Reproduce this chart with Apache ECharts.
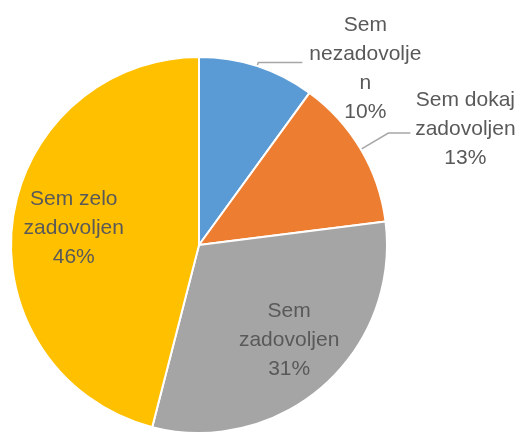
<!DOCTYPE html>
<html>
<head>
<meta charset="utf-8">
<script src="https://cdn.jsdelivr.net/npm/echarts@6/dist/echarts.min.js"></script>
<style>
  html, body { margin: 0; padding: 0; background: #fff; }
  #main { width: 524px; height: 434px; }
</style>
</head>
<body>
<div id="main"></div>
<script>
// podatki
var categories = ['Sem\nnezadovolje\nn', 'Sem dokaj\nzadovoljen', 'Sem\nzadovoljen', 'Sem zelo\nzadovoljen'];
var values = [10, 13, 31, 46];
var colors = ['#5B9BD5', '#ED7D31', '#A5A5A5', '#FFC000'];

var textColor = '#595959';
var font = 'Liberation Sans';

// zunanje oznake: besedilo centrirano v bloku
function outsideLabel(width, len, len2, offset) {
    return {
        label: {
            position: 'outside',
            offset: offset,
            formatter: function (p) {
                var lines = p.name.split('\n');
                lines.push(p.percent + '%');
                return lines.map(function (l) { return '{c|' + l + '}'; }).join('\n');
            },
            rich: {
                c: { width: width, align: 'center', fontSize: 21, lineHeight: 29, color: textColor, fontFamily: font }
            }
        },
        labelLine: { show: true, length: len, length2: len2, lineStyle: { color: '#a6a6a6', width: 1.5 } }
    };
}

function insideLabel(offset) {
    return {
        label: { position: 'inside', offset: offset },
        labelLine: { show: false }
    };
}

var itemExtra = [
    outsideLabel(116, 4, 44, [0, 6]),
    outsideLabel(100, 32, 22, [0, -4]),
    insideLabel([26, 22]),
    insideLabel([-29, -5])
];

var data = values.map(function (v, i) {
    var d = { value: v, name: categories[i], itemStyle: { color: colors[i] } };
    d.label = itemExtra[i].label;
    d.labelLine = itemExtra[i].labelLine;
    return d;
});

var myChart = echarts.init(document.getElementById('main'), null, { renderer: 'canvas' });

var option = {
    animation: false,
    series: [
        {
            type: 'pie',
            radius: 188,
            center: [199, 245],
            startAngle: 90,
            clockwise: true,
            avoidLabelOverlap: false,
            percentPrecision: 0,
            itemStyle: { borderColor: '#fff', borderWidth: 2 },
            label: {
                formatter: '{b}\n{d}%',
                fontSize: 21,
                lineHeight: 29,
                color: textColor,
                fontFamily: font
            },
            labelLayout: { hideOverlap: false },
            emphasis: { disabled: true },
            data: data
        }
    ]
};

myChart.setOption(option);
</script>
</body>
</html>
